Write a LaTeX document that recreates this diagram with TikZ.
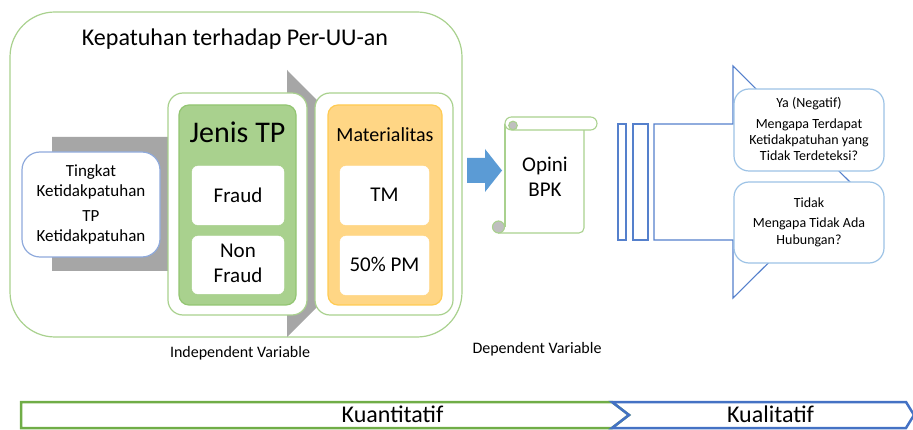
\documentclass[tikz,border=0pt]{standalone}
\usepackage{fontspec}
\setmainfont{Carlito}
\definecolor{frameGreen}{HTML}{A9D18E}
\definecolor{jenisFill}{HTML}{A9D18E}
\definecolor{jenisEdge}{HTML}{93C572}
\definecolor{matFill}{HTML}{FFD685}
\definecolor{matEdge}{HTML}{FFCB52}
\definecolor{tingBlue}{HTML}{8FAADC}
\definecolor{qBlue}{HTML}{9DC3E6}
\definecolor{stripeBlue}{HTML}{5580CC}
\definecolor{arrowBlue}{HTML}{5B9BD5}
\definecolor{arrowGray}{HTML}{A6A6A6}
\definecolor{curlGray}{HTML}{BFBFBF}
\definecolor{barGreen}{HTML}{70AD47}
\definecolor{barBlue}{HTML}{4472C4}
\begin{document}
\begin{tikzpicture}[x=1pt,y=-1pt,
  lbl/.style={inner sep=0pt, anchor=base},
  fs/.style={font=\fontsize{#1}{#1}\selectfont},
  panel/.style={draw=frameGreen, line width=1.2pt, fill=white, inner sep=0pt},
  whitebox/.style={fill=white, draw=white, rounded corners=6pt, inner sep=0pt},
  qbox/.style={draw=qBlue, line width=1.2pt, fill=white, rounded corners=15pt, inner sep=0pt,
    minimum width=150pt},
  stripe/.style={draw=stripeBlue, line width=1.1pt, line join=miter},
  scroll/.style={draw=frameGreen, line width=1.1pt},
  bar/.style={line width=2.5pt, line join=miter}
]
\useasboundingbox (0,0) rectangle (913,430);
\clip (0,0) rectangle (913,430);

% outer frame and title
\node[panel, rounded corners=45pt, minimum width=452pt, minimum height=325pt] (frame) at (236,174.5) {};
\node[lbl, fs=24] (title) at (235,46) {Kepatuhan terhadap Per-UU-an};

% grey block arrow behind the panels
\fill[arrowGray] (52,137) -- (287,137) -- (287,70) -- (420,204) -- (287,337) -- (287,271) -- (52,271) -- cycle;

% left box
\node[draw=tingBlue, line width=1.2pt, fill=white, rounded corners=18pt, inner sep=0pt,
  minimum width=138pt, minimum height=105pt] (tingkat) at (91,204.5) {};
\node[lbl, fs=17] (t1) at (91,177) {Tingkat};
\node[lbl, fs=17] (t2) at (91,197) {Ketidakpatuhan};
\node[lbl, fs=17] (t3) at (91,222) {TP};
\node[lbl, fs=17] (t4) at (91,242) {Ketidakpatuhan};

% Jenis TP panel
\node[panel, rounded corners=15pt, minimum width=139pt, minimum height=222pt] (jenisouter) at (237.5,204) {};
\node[fill=jenisFill, draw=jenisEdge, line width=1.2pt, rounded corners=10pt, inner sep=0pt,
  minimum width=117pt, minimum height=200pt] (jenis) at (237.5,205) {};
\node[lbl, fs=30] (jenistitle) at (237.5,143) {Jenis TP};
\node[whitebox, minimum width=92pt, minimum height=59pt, fs=21] (fraud) at (238,195.5) {Fraud};
\node[whitebox, minimum width=92pt, minimum height=58pt] (nonfraud) at (238,265) {};
\node[lbl, fs=21] (nf1) at (238,258) {Non};
\node[lbl, fs=21] (nf2) at (238,283) {Fraud};

% Materialitas panel
\node[panel, rounded corners=15pt, minimum width=138pt, minimum height=222pt] (matouter) at (384,204) {};
\node[fill=matFill, draw=matEdge, line width=1.2pt, rounded corners=10pt, inner sep=0pt,
  minimum width=114pt, minimum height=200pt] (mat) at (385,205) {};
\node[lbl, fs=20] (mattitle) at (385,142) {Materialitas};
\node[whitebox, minimum width=89pt, minimum height=59pt] (tm) at (384.5,195.5) {};
\node[lbl, fs=21] (tmtext) at (384.5,202) {TM};
\node[whitebox, minimum width=89pt, minimum height=59pt] (pm) at (384.5,265.5) {};
\node[lbl, fs=21] (pmtext) at (384.5,272) {50\% PM};

\node[lbl, fs=16] (indep) at (240,357) {Independent Variable};

% blue block arrow
\fill[arrowBlue] (467,158) -- (485,158) -- (485,149) -- (502,170.5) -- (485,192) -- (485,183) -- (467,183) -- cycle;

% scroll
\fill[white] (505,124) rectangle (584,233);
\draw[scroll] (505,124) -- (505,227);
\draw[scroll, rounded corners=5pt] (498,233) -- (584,233) -- (584,130);
\draw[scroll, fill=white, rounded corners=6.4pt] (505,117) rectangle (597,130);
\draw[scroll, fill=curlGray] (513,125.5) circle (4.3pt);
\draw[scroll, fill=curlGray] (498.5,227) circle (6pt);
\node[lbl, fs=21] (op1) at (545,172) {Opini};
\node[lbl, fs=21] (op2) at (545,197) {BPK};

\node[lbl, fs=16] (dep) at (537,353) {Dependent Variable};

% striped arrow
\draw[stripe] (618,124) rectangle (626,240);
\draw[stripe] (633,124) rectangle (648,240);
\draw[stripe, fill=white] (654,124) -- (733,124) -- (733,66) -- (850,182) -- (733,298) -- (733,240) -- (654,240) -- cycle;

% question boxes
\node[qbox, minimum height=82pt] (ya) at (809,130) {};
\node[lbl, fs=14] (y1) at (809,108) {Ya (Negatif)};
\node[lbl, fs=14] (y2) at (809,129) {Mengapa Terdapat};
\node[lbl, fs=14] (y3) at (809,145) {Ketidakpatuhan yang};
\node[lbl, fs=14] (y4) at (809,161) {Tidak Terdeteksi?};
\node[qbox, minimum height=81pt] (tidak) at (809,222.5) {};
\node[lbl, fs=14] (n1) at (809,208) {Tidak};
\node[lbl, fs=14] (n2) at (809,228) {Mengapa Tidak Ada};
\node[lbl, fs=14] (n3) at (809,244.5) {Hubungan?};

% bottom bar
\draw[bar, barGreen] (21,402) -- (612,402) -- (629,415) -- (612,428) -- (21,428) -- cycle;
\draw[bar, barBlue] (612,402) -- (906,402) -- (914,415) -- (906,428) -- (612,428) -- (629,415) -- cycle;
\node[lbl, fs=24] (kuan) at (392.5,422) {Kuantitatif};
\node[lbl, fs=24] (kual) at (770.5,422) {Kualitatif};
\end{tikzpicture}
\end{document}
